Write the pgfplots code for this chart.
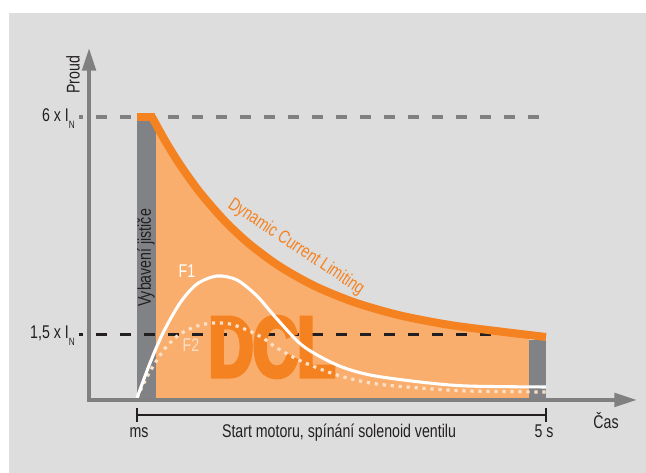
\documentclass[border=0pt]{standalone}
\usepackage{fontspec}
\setmainfont{Liberation Sans}[FakeStretch=0.77]
\newfontfamily\dclfont{Liberation Sans}[FakeStretch=0.72, FakeBold=5]
\usepackage{pgfplots}
\pgfplotsset{compat=1.18}
\usepgfplotslibrary{fillbetween}
\usetikzlibrary{arrows.meta}
\definecolor{panel}{HTML}{DDDDDD}
\definecolor{dclorange}{HTML}{F58220}
\definecolor{dclfill}{HTML}{F9AE6E}
\definecolor{bargray}{HTML}{808285}
\definecolor{axgray}{HTML}{808080}
\definecolor{txt}{HTML}{231F20}
\definecolor{peach}{HTML}{FCE0C6}
\newcommand{\IN}{I\raisebox{-0.7ex}{\fontsize{8}{8}\selectfont N}}
\tikzset{lbl/.style={font=\fontsize{13.8}{15}\selectfont, text=txt}}
\begin{document}
\begin{tikzpicture}
\begin{axis}[width=484.5pt,height=354.75pt,scale only axis,
  xmin=0,xmax=646,ymin=0,ymax=473,y dir=reverse,hide axis,clip=false]
% background
\addplot[fill=white,draw=none] coordinates {(0,0)(646,0)(646,473)(0,473)} -- cycle;
\addplot[fill=panel,draw=none] coordinates {(9,13)(646,13)(646,473)(9,473)} -- cycle;
% DCL area
\addplot[name path=dcl, draw=none, smooth] coordinates {(152,117)(165,140.5)(180,164.7)(200,192.5)(225,221.2)(250,244.5)(280,266.6)(315,286.2)(355,302.5)(400,315.4)(450,325)(500,331.5)(546,337)};
\addplot[name path=base, draw=none] coordinates {(150,399)(546,399)};
\addplot[dclfill] fill between[of=dcl and base, soft clip={domain=156:529}, on layer=main];
% gray bars
\addplot[fill=bargray,draw=none] coordinates {(137,118)(156,118)(156,399)(137,399)} -- cycle;
\addplot[fill=bargray,draw=none] coordinates {(529,340)(546,340)(546,399)(529,399)} -- cycle;
% dashed levels
\addplot[axgray, line width=2.4pt, dash pattern=on 8.25pt off 9.75pt, dash phase=5.25pt] coordinates {(79,117)(546,117)};
\addplot[txt, line width=2.25pt, dash pattern=on 8.25pt off 9.75pt, dash phase=5.25pt] coordinates {(79,335)(546,335)};
% DCL text
\node[text=dclorange, font=\dclfont\bfseries\fontsize{64}{64}\selectfont, inner sep=0pt] at (axis cs:272,347) {DCL};
% F2
\addplot[peach, line width=2.4pt, dash pattern=on 2.4pt off 3.6pt, smooth] coordinates {(137,398)(142,387)(148,375)(157,360)(167,346)(180,334)(197,326)(213,323)(230,324)(247,330)(263,338)(277,348)(303,362)(337,375)(370,383)(407,387)(467,391)(546,392)};
% F1
\addplot[white, line width=2.3pt, smooth] coordinates {(137,398)(150,363)(163,333)(180,303)(197,284)(217,276)(237,280)(257,296)(277,319)(303,346)(337,365)(370,375)(420,382)(467,386)(546,387)};
% dynamic current limiting line
\addplot[dclorange, line width=6pt, line cap=butt] coordinates {(137,117)(155,117)};
\addplot[dclorange, line width=6pt, line cap=butt, smooth] coordinates {(152,117)(165,140.5)(180,164.7)(200,192.5)(225,221.2)(250,244.5)(280,266.6)(315,286.2)(355,302.5)(400,315.4)(450,325)(500,331.5)(546,337)};
% axes
\addplot[axgray, line width=3pt, -{Triangle[length=17pt,width=10pt]}] coordinates {(89,400)(89,48)};
\addplot[axgray, line width=3pt, -{Triangle[length=17pt,width=10pt]}] coordinates {(87,400)(637,400)};
% bracket
\addplot[txt, line width=2.2pt] coordinates {(137,415)(546,415)};
\addplot[txt, line width=2.2pt] coordinates {(137,408)(137,422)};
\addplot[txt, line width=2.2pt] coordinates {(546,408)(546,422)};
% labels
\node[lbl, anchor=base] at (axis cs:139,438) {ms};
\node[lbl, anchor=base] at (axis cs:339,438) {Start motoru, spínání solenoid ventilu};
\node[lbl, anchor=base] at (axis cs:544,438) {5 s};
\node[lbl, anchor=base] at (axis cs:606,429) {Čas};
\node[lbl, rotate=90] at (axis cs:73,75) {Proud};
\node[lbl, anchor=base east, inner sep=0pt] at (axis cs:75,122) {6 x \IN};
\node[lbl, anchor=base east, inner sep=0pt] at (axis cs:75,339) {1,5 x \IN};
\node[lbl, rotate=90] at (axis cs:146,258) {Vybavení jističe};
\node[lbl, text=dclorange, rotate=-33.5] at (axis cs:296,247) {Dynamic Current Limiting};
\node[lbl, text=white, anchor=base] at (axis cs:187,278) {F1};
\node[lbl, text=peach, anchor=base] at (axis cs:191,352) {F2};
\end{axis}
\end{tikzpicture}
\end{document}
